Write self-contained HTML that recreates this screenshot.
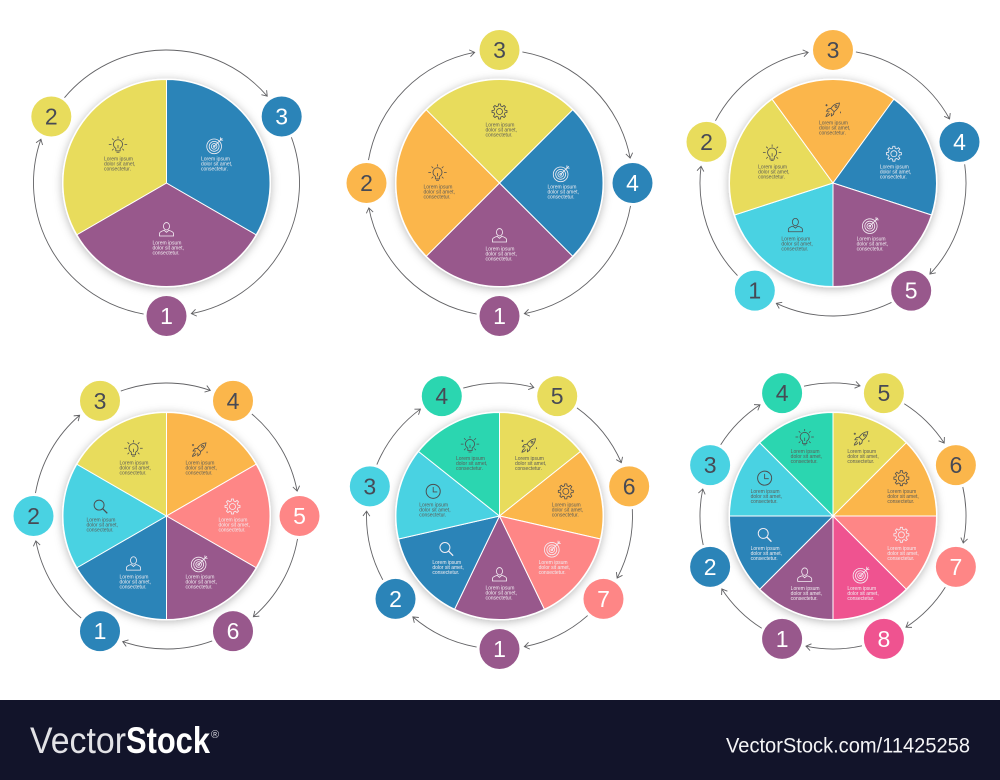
<!DOCTYPE html>
<html lang="en">
<head>
<meta charset="utf-8">
<title>Circular step infographics</title>
<style>
  html, body { margin: 0; padding: 0; background: #fff; }
  #stage { display: block; width: 1000px; height: 780px; font-family: "Liberation Sans", sans-serif; }
</style>
</head>
<body>
<svg id="stage" xmlns="http://www.w3.org/2000/svg" width="1000" height="780" viewBox="0 0 1000 780">
  <defs>
    <filter id="pieShadow" x="-20%" y="-20%" width="140%" height="140%">
      <feDropShadow dx="0" dy="1.5" stdDeviation="4.5" flood-color="#000" flood-opacity="0.28"/>
    </filter>
  </defs>
  <rect x="0" y="0" width="1000" height="780" fill="#ffffff"/>
  <g id="charts"></g>
  <g>
    <rect x="0" y="700" width="1000" height="80" fill="#12142a"/>
    <text x="30" y="753" font-size="37" fill="#e2e2e6" textLength="96" lengthAdjust="spacingAndGlyphs">Vector</text>
    <text x="126" y="753" font-size="37" font-weight="bold" fill="#ffffff" textLength="84" lengthAdjust="spacingAndGlyphs">Stock</text>
    <text x="211" y="738" font-size="11" fill="#d8d8de">®</text>
    <text x="726" y="752.5" font-size="21" fill="#f4f4f6" textLength="244" lengthAdjust="spacingAndGlyphs">VectorStock.com/11425258</text>
  </g>
</svg>
<script>
// ---- data: equal-share step pies, one block per chart ----
const pie1Steps = ["1", "2", "3"];
const pie1Shares = [1, 1, 1];
const pie1Colors = ["purple", "yellow", "blue"];
const pie1Icons = ["person", "bulb", "target"];

const pie2Steps = ["1", "2", "3", "4"];
const pie2Shares = [1, 1, 1, 1];
const pie2Colors = ["purple", "orange", "yellow", "blue"];
const pie2Icons = ["person", "bulb", "gear", "target"];

const pie3Steps = ["1", "2", "3", "4", "5"];
const pie3Shares = [1, 1, 1, 1, 1];
const pie3Colors = ["cyan", "yellow", "orange", "blue", "purple"];
const pie3Icons = ["person", "bulb", "rocket", "gear", "target"];

const pie4Steps = ["1", "2", "3", "4", "5", "6"];
const pie4Shares = [1, 1, 1, 1, 1, 1];
const pie4Colors = ["blue", "cyan", "yellow", "orange", "coral", "purple"];
const pie4Icons = ["person", "magnifier", "bulb", "rocket", "gear", "target"];

const pie5Steps = ["1", "2", "3", "4", "5", "6", "7"];
const pie5Shares = [1, 1, 1, 1, 1, 1, 1];
const pie5Colors = ["purple", "blue", "cyan", "green", "yellow", "orange", "coral"];
const pie5Icons = ["person", "magnifier", "clock", "bulb", "rocket", "gear", "target"];

const pie6Steps = ["1", "2", "3", "4", "5", "6", "7", "8"];
const pie6Shares = [1, 1, 1, 1, 1, 1, 1, 1];
const pie6Colors = ["purple", "blue", "cyan", "green", "yellow", "orange", "coral", "pink"];
const pie6Icons = ["person", "magnifier", "clock", "bulb", "rocket", "gear", "gear", "target"];

const loremLines = ["Lorem ipsum", "dolor sit amet,", "consectetur."];

// ---- layout and style ----
const palette = {
  yellow: "#e8dc5c", blue: "#2b84b8", purple: "#98588c", orange: "#fbb64b",
  cyan: "#49d2e2", coral: "#fe8686", green: "#2bd6b0", pink: "#ef5390"
};
const lightInk = { blue: 1, purple: 1, coral: 1, pink: 1 };
const layouts = [
  { cx: 166.5, cy: 183, start: 120, labelR: 56 },
  { cx: 499.5, cy: 183, start: 135, labelR: 62 },
  { cx: 833, cy: 183, start: 180, labelR: 64 },
  { cx: 166.5, cy: 516, start: 180, labelR: 66 },
  { cx: 499.5, cy: 516, start: 154.286, labelR: 68 },
  { cx: 833, cy: 516, start: 180, labelR: 74 }
];
const pies = [
  { steps: pie1Steps, shares: pie1Shares, colors: pie1Colors, icons: pie1Icons },
  { steps: pie2Steps, shares: pie2Shares, colors: pie2Colors, icons: pie2Icons },
  { steps: pie3Steps, shares: pie3Shares, colors: pie3Colors, icons: pie3Icons },
  { steps: pie4Steps, shares: pie4Shares, colors: pie4Colors, icons: pie4Icons },
  { steps: pie5Steps, shares: pie5Shares, colors: pie5Colors, icons: pie5Icons },
  { steps: pie6Steps, shares: pie6Shares, colors: pie6Colors, icons: pie6Icons }
];
const PIE_R = 103.5, ORBIT_R = 133, BADGE_R = 20, GAP_START = 23, GAP_END = 25, HEAD = 6;
const SVGNS = "http://www.w3.org/2000/svg";

function mk(tag, attrs, parent) {
  const el = document.createElementNS(SVGNS, tag);
  for (const k in attrs) el.setAttribute(k, attrs[k]);
  if (parent) parent.appendChild(el);
  return el;
}
function polar(cx, cy, r, deg) {
  const a = deg * Math.PI / 180;
  return [cx + r * Math.sin(a), cy - r * Math.cos(a)];
}
function f(n) { return n.toFixed(2); }

function gearPath() {
  let d = "";
  const teeth = 8;
  for (let t = 0; t < teeth; t++) {
    const base = t * 360 / teeth;
    const pts = [[5.2, base - 13], [7, base - 8], [7, base + 8], [5.2, base + 13]];
    pts.forEach(function (p) {
      const q = polar(0, 0, p[0], p[1]);
      d += (d ? "L" : "M") + f(q[0]) + "," + f(q[1]);
    });
  }
  return d + "Z";
}
const iconShapes = {
  bulb: function (g, c) {
    mk("path", { d: "M-2,2.6 A4.2,4.2 0 1 1 2,2.6 L2,5 L-2,5 Z M-1.4,6.3 L1.4,6.3 M0,-0.5 L0,2.6", fill: "none", stroke: c, "stroke-width": 0.7 }, g);
    mk("path", { d: "M-8.5,-1 L-6,-1 M8.5,-1 L6,-1 M0,-8.5 L0,-6.5 M-5.5,-6.5 L-4,-5 M5.5,-6.5 L4,-5 M-5.5,4.5 L-4,3 M5.5,4.5 L4,3", fill: "none", stroke: c, "stroke-width": 0.7 }, g);
  },
  target: function (g, c) {
    [6.8, 4.6, 2.6, 0.8].forEach(function (r) {
      mk("circle", { cx: -0.8, cy: 0.8, r: r, fill: "none", stroke: c, "stroke-width": 0.75 }, g);
    });
    mk("path", { d: "M-0.8,0.8 L6.8,-6.8 M5,-7.5 L5,-5 L7.5,-5", fill: "none", stroke: c, "stroke-width": 0.75 }, g);
  },
  person: function (g, c) {
    mk("ellipse", { cx: 0, cy: -3, rx: 2.8, ry: 3.4, fill: "none", stroke: c, "stroke-width": 0.75 }, g);
    mk("path", { d: "M-6.5,6 L-6.5,3.8 Q-6.5,2 -2.2,0.8 L0,2.6 L2.2,0.8 Q6.5,2 6.5,3.8 L6.5,6 Z", fill: "none", stroke: c, "stroke-width": 0.75 }, g);
  },
  rocket: function (g, c) {
    mk("path", { d: "M6,-6 Q1,-5.5 -2,-1 L1,2 Q5.5,-1 6,-6 Z M-2,-1 L-4.5,-0.5 L-6,1.5 L-3.2,1.6 M1,2 L0.5,4.5 L-1.5,6 L-1.6,3.2 M-4,3 Q-6,4 -6.5,6.5 Q-4,6 -3,4 M-6,-5 L-6,-3 M-7,-4 L-5,-4 M7,2 L7,3.5", fill: "none", stroke: c, "stroke-width": 0.75 }, g);
    mk("circle", { cx: 2.8, cy: -2.8, r: 0.9, fill: "none", stroke: c, "stroke-width": 0.7 }, g);
  },
  gear: function (g, c) {
    mk("path", { d: gearPath(), fill: "none", stroke: c, "stroke-width": 0.75 }, g);
    mk("circle", { cx: 0, cy: 0, r: 2.8, fill: "none", stroke: c, "stroke-width": 0.75 }, g);
  },
  clock: function (g, c) {
    mk("circle", { cx: 0, cy: 0, r: 6.5, fill: "none", stroke: c, "stroke-width": 0.9 }, g);
    mk("path", { d: "M0,-4 L0,0.5 L3.8,0.5", fill: "none", stroke: c, "stroke-width": 0.8 }, g);
  },
  magnifier: function (g, c) {
    mk("circle", { cx: -1.3, cy: -1.3, r: 4.6, fill: "none", stroke: c, "stroke-width": 0.9 }, g);
    mk("path", { d: "M2,2 L6.3,6.3", fill: "none", stroke: c, "stroke-width": 1.2 }, g);
  }
};

const chartsRoot = document.getElementById("charts");

pies.forEach(function (pie, p) {
  const lay = layouts[p];
  const total = pie.shares.reduce(function (a, b) { return a + b; }, 0);
  const angle = function (v) { return v / total * 360; };

  const chart = mk("g", {}, chartsRoot);
  
  

  const backing = mk("circle", { cx: lay.cx, cy: lay.cy, r: PIE_R + 1, fill: "#ffffff", filter: "url(#pieShadow)" }, chart);
  
  

  // slice boundaries and mid angles are all derived from the shares
  const mids = [];
  let cursor = lay.start;
  pie.shares.forEach(function (s, i) {
    const a0 = cursor, a1 = cursor + angle(s);
    cursor = a1;
    mids.push((a0 + a1) / 2);
    const p0 = polar(lay.cx, lay.cy, PIE_R, a0), p1 = polar(lay.cx, lay.cy, PIE_R, a1);
    const large = a1 - a0 > 180 ? 1 : 0;
    const wedge = mk("path", {
      d: "M" + lay.cx + "," + lay.cy + " L" + f(p0[0]) + "," + f(p0[1]) +
         " A" + PIE_R + "," + PIE_R + " 0 " + large + " 1 " + f(p1[0]) + "," + f(p1[1]) + " Z",
      fill: palette[pie.colors[i]], stroke: "#ffffff", "stroke-width": 1, "stroke-linejoin": "round"
    }, chart);
    
    
  });

  // slice content: icon + caption
  pie.steps.forEach(function (step, i) {
    const colorKey = pie.colors[i];
    const isLight = !!lightInk[colorKey];
    const iconInk = isLight ? "#f4eef4" : "#4d4e50";
    const textInk = isLight ? "#f0ecf0" : "#5c5c58";
    const pos = polar(lay.cx, lay.cy, lay.labelR, mids[i]);
    const icon = mk("g", { transform: "translate(" + f(pos[0]) + "," + f(pos[1] - 9.5) + ") scale(1.08)" }, chart);
    
    
    iconShapes[pie.icons[i]](icon, iconInk);
    loremLines.forEach(function (line, k) {
      const t = mk("text", {
        x: f(pos[0] - 14), y: f(pos[1] + 5.5 + k * 5),
        "font-size": 5, fill: textInk
      }, chart);
      
      
      t.textContent = line;
    });
  });

  // connector arcs between consecutive badges
  pie.steps.forEach(function (step, i) {
    const next = (i + 1) % pie.steps.length;
    const from = mids[i] + GAP_START / ORBIT_R * 180 / Math.PI;
    let to = mids[next] - GAP_END / ORBIT_R * 180 / Math.PI;
    while (to < from) to += 360;
    const a = polar(lay.cx, lay.cy, ORBIT_R, from), b = polar(lay.cx, lay.cy, ORBIT_R, to);
    const large = to - from > 180 ? 1 : 0;
    const tangent = to * Math.PI / 180;
    const wings = [35, -35].map(function (w) {
      const d = tangent + (w + 180) * Math.PI / 180;
      return [b[0] + HEAD * Math.cos(d), b[1] + HEAD * Math.sin(d)];
    });
    const arc = mk("path", {
      d: "M" + f(a[0]) + "," + f(a[1]) + " A" + ORBIT_R + "," + ORBIT_R + " 0 " + large + " 1 " + f(b[0]) + "," + f(b[1]) +
         " M" + f(wings[0][0]) + "," + f(wings[0][1]) + " L" + f(b[0]) + "," + f(b[1]) + " L" + f(wings[1][0]) + "," + f(wings[1][1]),
      fill: "none", stroke: "#626265", "stroke-width": 0.9
    }, chart);
    
    
  });

  // numbered badges on the orbit, at each slice's mid angle
  pie.steps.forEach(function (step, i) {
    const colorKey = pie.colors[i];
    const c = polar(lay.cx, lay.cy, ORBIT_R, mids[i]);
    const badge = mk("circle", { cx: f(c[0]), cy: f(c[1]), r: BADGE_R, fill: palette[colorKey] }, chart);
    
    
    const num = mk("text", {
      x: f(c[0]), y: f(c[1] + 8), "text-anchor": "middle", "font-size": 23,
      fill: lightInk[colorKey] ? "#ffffff" : "#474a55"
    }, chart);
    
    
    num.textContent = step;
  });
});
</script>
</body>
</html>
